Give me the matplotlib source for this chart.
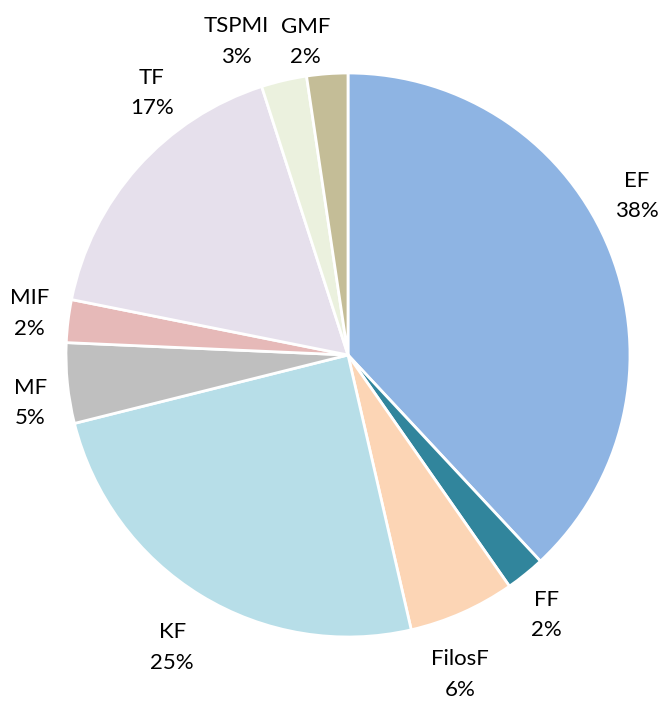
import numpy as np
import matplotlib
matplotlib.use("Agg")
import matplotlib.pyplot as plt

categories = ["EF", "FF", "FilosF", "KF", "MF", "MIF", "TF", "TSPMI", "GMF"]
values = [38.05, 2.25, 6.1, 24.7, 4.6, 2.45, 16.9, 2.6, 2.35]
colors = ["#8EB4E3", "#31859C", "#FCD5B5", "#B7DEE8", "#BFBFBF",
          "#E6B9B8", "#E6E0EC", "#EBF1DE", "#C4BD97"]
# label placement tweaks (angle offset in degrees, radial distance)
label_offsets = [7.3, -1.6, -4.6, 0.5, 2.8, -0.5, -11.4, 6.5, 3.5]
label_dist = [1.17, 1.16, 1.20, 1.21, 1.14, 1.14, 1.16, 1.18, 1.12]

W, H = 662, 707
fig = plt.figure(figsize=(W / 100, H / 100), dpi=100)
cx, cy, R = 348, 707 - 355, 282
ax = fig.add_axes([(cx - R) / W, (cy - R) / H, 2 * R / W, 2 * R / H])

wedges, _ = ax.pie(values, colors=colors, startangle=90, counterclock=False,
                   radius=1, wedgeprops=dict(edgecolor="white", linewidth=2))
ax.set_xlim(-1, 1)
ax.set_ylim(-1, 1)
ax.set_aspect("equal")
ax.axis("off")

total = sum(values)
for w, cat, v, off, d in zip(wedges, categories, values, label_offsets, label_dist):
    mid = (w.theta1 + w.theta2) / 2 + off
    x = d * np.cos(np.radians(mid))
    y = d * np.sin(np.radians(mid))
    ax.text(x, y, f"{cat}\n{100 * v / total:.0f}%", ha="center", va="center",
            fontsize=16, family=["Lato", "DejaVu Sans"], linespacing=1.65,
            color="black", clip_on=False)

fig.savefig("out.png", dpi=100, facecolor="white")
